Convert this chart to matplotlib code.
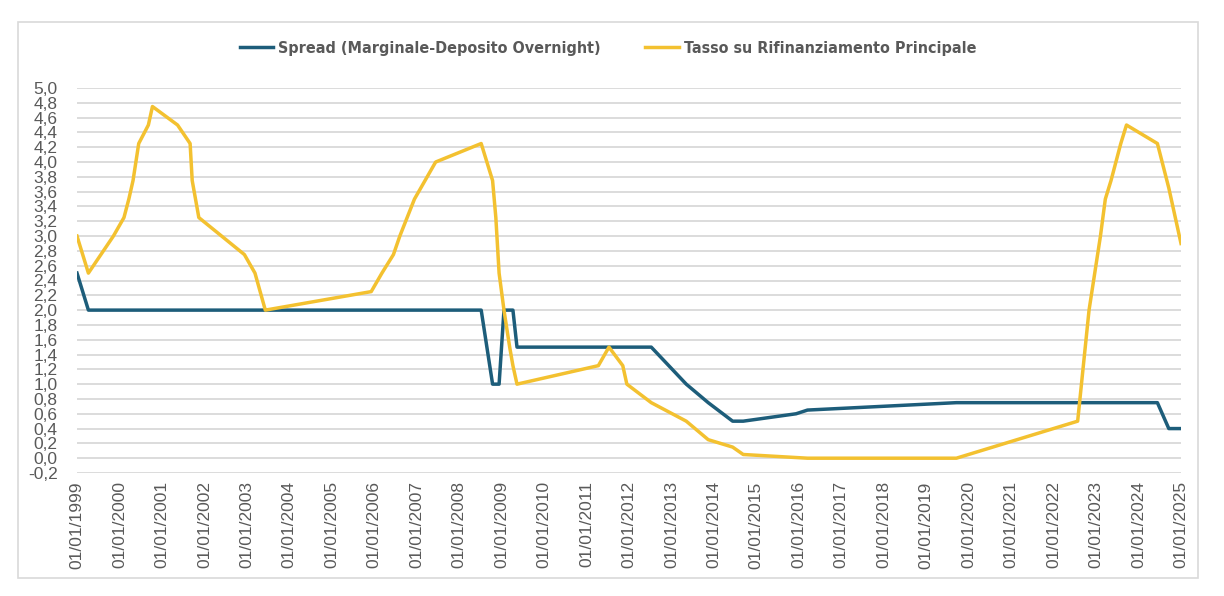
import matplotlib
matplotlib.use('Agg')
import matplotlib.pyplot as plt
import matplotlib.dates as mdates
from matplotlib.ticker import FuncFormatter, MultipleLocator
from matplotlib.patches import Rectangle
import pandas as pd

# Spread (marginal lending - deposit facility)
spread_dates = ["1999-01-01", "1999-04-09", "2008-07-09", "2008-10-15", "2008-12-10",
                "2009-01-21", "2009-04-08", "2009-05-13", "2012-07-11", "2013-05-08",
                "2013-11-13", "2014-06-11", "2014-09-10", "2015-12-09", "2016-03-16",
                "2019-09-18", "2022-07-27", "2024-06-12", "2024-09-18", "2025-01-01"]
spread_vals = [2.5, 2.0, 2.0, 1.0, 1.0,
               2.0, 2.0, 1.5, 1.5, 1.0,
               0.75, 0.5, 0.5, 0.6, 0.65,
               0.75, 0.75, 0.75, 0.4, 0.4]

# Main refinancing rate
mro_dates = ["1999-01-01", "1999-04-09", "1999-11-10", "2000-02-09", "2000-03-22",
             "2000-04-27", "2000-06-15", "2000-09-06", "2000-10-11", "2001-05-15",
             "2001-08-31", "2001-09-18", "2001-11-14", "2002-12-11", "2003-03-12",
             "2003-06-09", "2005-12-06", "2006-03-08", "2006-06-15", "2006-08-09",
             "2006-10-11", "2006-12-13", "2007-03-14", "2007-06-13", "2008-07-09",
             "2008-10-15", "2008-11-12", "2008-12-10", "2009-01-21", "2009-03-11",
             "2009-04-08", "2009-05-13", "2011-04-13", "2011-07-13", "2011-11-09",
             "2011-12-14", "2012-07-11", "2013-05-08", "2013-11-13", "2014-06-11",
             "2014-09-10", "2016-03-16", "2019-09-18", "2022-07-27", "2022-09-14",
             "2022-11-02", "2022-12-21", "2023-02-08", "2023-03-22", "2023-05-10",
             "2023-06-21", "2023-08-02", "2023-09-20", "2024-06-12", "2024-09-18",
             "2024-10-23", "2025-01-01"]
mro_vals = [3.0, 2.5, 3.0, 3.25, 3.5,
            3.75, 4.25, 4.5, 4.75, 4.5,
            4.25, 3.75, 3.25, 2.75, 2.5,
            2.0, 2.25, 2.5, 2.75, 3.0,
            3.25, 3.5, 3.75, 4.0, 4.25,
            3.75, 3.25, 2.5, 2.0, 1.5,
            1.25, 1.0, 1.25, 1.5, 1.25,
            1.0, 0.75, 0.5, 0.25, 0.15,
            0.05, 0.0, 0.0, 0.5, 1.25,
            2.0, 2.5, 3.0, 3.5, 3.75,
            4.0, 4.25, 4.5, 4.25, 3.65,
            3.4, 2.9]

label_spread = "Spread (Marginale-Deposito Overnight)"
label_mro = "Tasso su Rifinanziamento Principale"

blue = '#1d5d7a'
yellow = '#f3c130'
grey_txt = '#595959'

fig = plt.figure(figsize=(12.24, 5.96), dpi=100)
fig.patches.append(Rectangle((18/1224, 1-578/596), 1180/1224, 556/596,
                             transform=fig.transFigure, fill=False,
                             edgecolor='#d9d9d9', linewidth=1.2))
ax = fig.add_axes([77/1224, 1-473/596, 1104/1224, 385/596])

ax.plot(pd.to_datetime(spread_dates), spread_vals, color=blue, lw=2.5, label=label_spread)
ax.plot(pd.to_datetime(mro_dates), mro_vals, color=yellow, lw=2.5, label=label_mro)

ax.set_xlim(pd.Timestamp("1999-01-01"), pd.Timestamp("2025-01-01"))
ax.set_ylim(-0.2, 5.0)
ax.yaxis.set_major_locator(MultipleLocator(0.2))
ax.yaxis.set_major_formatter(FuncFormatter(lambda v, p: f"{round(v, 1) + 0.0:.1f}".replace('.', ',')))
ax.xaxis.set_major_locator(mdates.YearLocator())
ax.xaxis.set_major_formatter(mdates.DateFormatter('%d/%m/%Y'))

for s in ax.spines.values():
    s.set_visible(False)
ax.grid(axis='y', color='#d9d9d9', lw=1.3)
ax.set_axisbelow(True)
ax.tick_params(axis='both', length=0, colors=grey_txt, labelsize=12.5)
ax.tick_params(axis='y', pad=14)
ax.tick_params(axis='x', pad=6, labelrotation=90)
for t in ax.get_xticklabels() + ax.get_yticklabels():
    t.set_family('Liberation Sans')
fig.canvas.draw()
ax.get_ygridlines()[0].set_visible(False)

leg = fig.legend(loc='center', bbox_to_anchor=(608/1224, 1-48/596), ncol=2, frameon=False,
                 handlelength=2.1, handletextpad=0.3, columnspacing=2.8,
                 prop={'family': 'DejaVu Sans', 'stretch': 'condensed',
                       'weight': 'bold', 'size': 11.5})
for t in leg.get_texts():
    t.set_color(grey_txt)

fig.savefig('out.png', dpi=100)
